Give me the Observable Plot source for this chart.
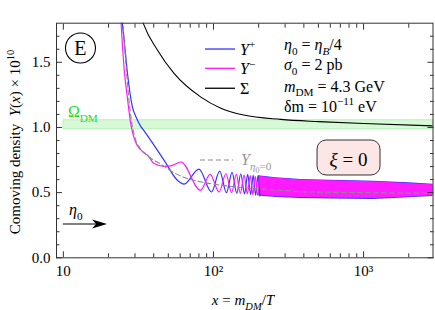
<!DOCTYPE html>
<html><head><meta charset="utf-8">
<script src="https://cdn.jsdelivr.net/npm/d3@7"></script>
<script src="https://cdn.jsdelivr.net/npm/@observablehq/plot@0.6"></script>
<style>
html,body{margin:0;padding:0;background:#fff;}
#chart{width:435px;height:310px;}
svg text{font-family:"Liberation Serif","Times New Roman",serif;}
</style></head><body><div id="chart"></div>
<script>
// ---- data ----
const xMajor = [10, 100, 1000];
const xTickLabels = ["10", "10²", "10³"];
const xMinor = [20,30,40,50,60,70,80,90,200,300,400,500,600,700,800,900,2000];
const yMajor = [0, 0.5, 1.0, 1.5];
const yMinor = [0.1,0.2,0.3,0.4,0.6,0.7,0.8,0.9,1.1,1.2,1.3,1.4,1.6,1.7];

const yPlusX = [24.3,24.7,25.4,26.7,28.8,30.5,32.7,34.4,37.2,46.9,57.5,63.7,80,97,110,122,133,143,152,161,169,177,184,191,198,204];
const yPlusY = [1.9,1.8,1.67,1.42,1.16,1.08,1.01,0.975,0.92,0.748,0.595,0.565,0.68,0.505,0.665,0.50,0.655,0.495,0.645,0.49,0.64,0.485,0.635,0.48,0.63,0.475];

const yMinusX = [23.9,24.25,25.4,26.75,28.1,29.4,30.8,33.3,36.5,40.2,46.9,51.9,60.7,82,95,109,121,132,142,151,160,168,176,183,190,197,203];
const yMinusY = [1.95,1.8,1.45,1.22,1.03,0.93,0.87,0.82,0.785,0.723,0.702,0.705,0.735,0.518,0.64,0.505,0.645,0.50,0.64,0.495,0.635,0.49,0.63,0.485,0.625,0.48,0.625];

const bandX  = [200,260,383,600,1170,2000,2900];
const bandHi = [0.63,0.615,0.60,0.595,0.588,0.575,0.565];
const bandLo = [0.475,0.462,0.455,0.452,0.448,0.46,0.47];

const sigmaX = [33.0,34.4,42.3,54.6,82,112,159,281,500,1000,2900];
const sigmaY = [1.85,1.787,1.595,1.415,1.235,1.148,1.095,1.062,1.045,1.03,1.012];

const y0X = [24.6,25.6,27.0,28.7,30.3,33,37,44.5,55,67,85,100,140,200,300,445,1000,2900];
const y0Y = [1.9,1.62,1.28,1.02,0.905,0.83,0.775,0.72,0.65,0.608,0.58,0.565,0.545,0.53,0.515,0.505,0.50,0.495];

const omegaX = [10, 2900];
const omegaY = [0.987, 1.056];

// ---- tables ----
const zip = (xs, ys) => xs.map((x, i) => ({x, y: ys[i]}));
const plusData = zip(yPlusX, yPlusY);
const minusData = zip(yMinusX, yMinusY);
const sigmaData = zip(sigmaX, sigmaY);
const y0Data = zip(y0X, y0Y);
const bandData = bandX.map((x, i) => ({x, hi: bandHi[i], lo: bandLo[i]}));
const omegaData = [{x1: omegaX[0], x2: omegaX[1], y1: omegaY[0], y2: omegaY[1]}];

const BLUE = "#3333ff", MAG = "#ff1aff", AX = "#333";
const blank = () => "";

const chart = Plot.plot({
  width: 435, height: 310,
  marginLeft: 56, marginRight: 2.5, marginTop: 22.7, marginBottom: 52.7,
  style: {fontFamily: '"Liberation Serif", serif', fontSize: "15px", background: "#fff", color: "#000"},
  x: {type: "log", domain: [9, 2900]},
  y: {domain: [0, 1.8]},
  marks: [
    Plot.rect(omegaData, {x1: "x1", x2: "x2", y1: "y1", y2: "y2", fill: "#22dd22", fillOpacity: 0.18, stroke: "#22dd22", strokeOpacity: 0.25, strokeWidth: 1}),
    Plot.areaY(bandData, {x: "x", y1: "lo", y2: "hi", fill: BLUE}),
    Plot.areaY(bandData, {x: "x", y1: d => d.lo + 0.007, y2: d => d.hi - 0.004, fill: MAG}),
    Plot.line(plusData, {x: "x", y: "y", stroke: BLUE, strokeWidth: 1.2, curve: "monotone-x", clip: true}),
    Plot.line(minusData, {x: "x", y: "y", stroke: MAG, strokeWidth: 1.2, curve: "monotone-x", clip: true}),
    Plot.line(y0Data, {x: "x", y: "y", stroke: "#8a8a8a", strokeWidth: 1.1, strokeDasharray: "5,3", curve: "monotone-x", clip: true}),
    Plot.line(sigmaData, {x: "x", y: "y", stroke: "#000", strokeWidth: 1.1, curve: "monotone-x", clip: true}),
    // ticks (inward)
    Plot.axisX(xMajor, {anchor: "bottom", tickSize: -6, tickFormat: blank, label: null, stroke: AX}),
    Plot.axisX(xMinor, {anchor: "bottom", tickSize: -4, tickFormat: blank, label: null, stroke: AX}),
    Plot.axisX(xMajor, {anchor: "top", tickSize: -6, tickFormat: blank, label: null, stroke: AX}),
    Plot.axisX(xMinor, {anchor: "top", tickSize: -4, tickFormat: blank, label: null, stroke: AX}),
    Plot.axisY(yMajor, {anchor: "left", tickSize: -6, tickFormat: blank, label: null, stroke: AX}),
    Plot.axisY(yMinor, {anchor: "left", tickSize: -3.5, tickFormat: blank, label: null, stroke: AX}),
    Plot.axisY(yMajor, {anchor: "right", tickSize: -6, tickFormat: blank, label: null, stroke: AX}),
    Plot.axisY(yMinor, {anchor: "right", tickSize: -3.5, tickFormat: blank, label: null, stroke: AX}),
    // tick labels
    Plot.axisX(xMajor, {anchor: "bottom", tickSize: 0, tickPadding: 8, tickFormat: d => xTickLabels[xMajor.indexOf(d)], label: null, fontSize: 15, fill: "#000"}),
    Plot.axisY(yMajor, {anchor: "left", tickSize: 0, tickPadding: 6, tickFormat: d3.format(".1f"), label: null, fontSize: 15, fill: "#000"}),
    Plot.frame({stroke: AX, strokeWidth: 1})
  ]
});
document.getElementById("chart").appendChild(chart);

// ---- annotations (positioned through the chart's scales) ----
const sx = chart.scale("x"), sy = chart.scale("y");
const X = v => sx.apply(v), Y = v => sy.apply(v);
const svg = d3.select(chart.tagName.toLowerCase() === "svg" ? chart : chart.querySelector("svg"));
const g = svg.append("g");

function rich(px, py, parts, {size = 15, anchor = "start", fill = "#000", transform = null} = {}) {
  const t = g.append("text").attr("font-size", size).attr("text-anchor", anchor)
    .attr("fill", fill).style("white-space", "pre");
  if (transform) t.attr("transform", transform).attr("x", 0).attr("y", 0);
  else t.attr("x", px).attr("y", py);
  let prev = 0;
  for (const p of parts) {
    const s = p.s || 0;
    const ts = t.append("tspan").text(p.t).attr("dy", ((s - prev) * size).toFixed(2));
    if (p.i) ts.attr("font-style", "italic");
    if (p.z) ts.attr("font-size", (p.z * size).toFixed(2));
    prev = s;
  }
  return t;
}
const SUB = 0.3, SUP = -0.42, SZ = 0.7;

// axis titles
rich(0, 0, [{t: "Comoving density  "}, {t: "Y", i: 1}, {t: "("}, {t: "x", i: 1}, {t: ") × 10"}, {t: "10", s: SUP, z: SZ}],
  {anchor: "middle", transform: `translate(20,142) rotate(-90)`});
rich(243, 305, [{t: "x", i: 1}, {t: " = "}, {t: "m", i: 1}, {t: "DM", i: 1, s: SUB, z: SZ}, {t: "/"}, {t: "T", i: 1}], {anchor: "middle"});

// panel label
g.append("circle").attr("cx", X(13.1)).attr("cy", Y(1.606)).attr("r", 15).attr("fill", "none").attr("stroke", "#000").attr("stroke-width", 1.1);
g.append("text").attr("x", X(13.1)).attr("y", Y(1.606) + 7).attr("text-anchor", "middle").attr("font-size", 20).text("E");

// Omega label
rich(X(10.8), Y(1.077), [{t: "Ω"}, {t: "DM", s: SUB, z: SZ}], {fill: "#22dd22", size: 16});

// legend
const leg = [[1.598, BLUE, [{t: "Y", i: 1}, {t: "+", s: SUP, z: SZ}]],
             [1.450, MAG, [{t: "Y", i: 1}, {t: "−", s: SUP, z: SZ}]],
             [1.297, "#000", [{t: "Σ"}]]];
for (const [yy, c, parts] of leg) {
  g.append("line").attr("x1", X(88.5)).attr("x2", X(140.2)).attr("y1", Y(yy)).attr("y2", Y(yy)).attr("stroke", c).attr("stroke-width", 1.3);
  rich(X(151.4), Y(yy) + 6, parts, {size: 16});
}
// parameters
rich(X(297), Y(1.591), [{t: "η", i: 1}, {t: "0", s: SUB, z: SZ}, {t: " = "}, {t: "η", i: 1}, {t: "B", i: 1, s: SUB, z: SZ}, {t: "/4"}], {size: 16});
rich(X(297), Y(1.437), [{t: "σ", i: 1}, {t: "0", s: SUB, z: SZ}, {t: " = 2 pb"}], {size: 16});
rich(X(297), Y(1.271), [{t: "m", i: 1}, {t: "DM", s: SUB, z: SZ}, {t: " = 4.3 GeV"}], {size: 16});
rich(X(297), Y(1.117), [{t: "δm = 10"}, {t: "−11", s: SUP, z: SZ}, {t: " eV"}], {size: 16});

// dashed legend
g.append("line").attr("x1", X(81.9)).attr("x2", X(136)).attr("y1", Y(0.7466)).attr("y2", Y(0.7466))
  .attr("stroke", "#8a8a8a").attr("stroke-width", 1.1).attr("stroke-dasharray", "5,3");
rich(X(153.8), Y(0.708), [{t: "Y", i: 1}, {t: "η", i: 1, s: 0.3, z: 0.7}, {t: "0", s: 0.5, z: 0.5}, {t: "=0", s: 0.3, z: 0.7}], {fill: "#999", size: 16});

// xi box
const bx1 = X(493.4), bx2 = X(1296.6), by1 = Y(0.900), by2 = Y(0.6315);
g.append("rect").attr("x", bx1).attr("y", by1).attr("width", bx2 - bx1).attr("height", by2 - by1)
  .attr("rx", 9).attr("fill", "#fde6e6").attr("stroke", "#333").attr("stroke-width", 1);
rich((bx1 + bx2) / 2, Y(0.70), [{t: "ξ", i: 1}, {t: " = 0"}], {anchor: "middle", size: 19});

// eta0 arrow
const ax1 = X(10), ax2 = X(19.7), ay = Y(0.2555);
g.append("line").attr("x1", ax1).attr("x2", ax2 - 10).attr("y1", ay).attr("y2", ay).attr("stroke", "#000").attr("stroke-width", 1.2);
g.append("path").attr("d", `M${ax2},${ay} L${ax2 - 15},${ay - 4.5} L${ax2 - 11},${ay} L${ax2 - 15},${ay + 4.5} Z`).attr("fill", "#000");
rich(X(11.0), Y(0.3246), [{t: "η", i: 1}, {t: "0", s: SUB, z: SZ}], {size: 16});
</script>
</body></html>
